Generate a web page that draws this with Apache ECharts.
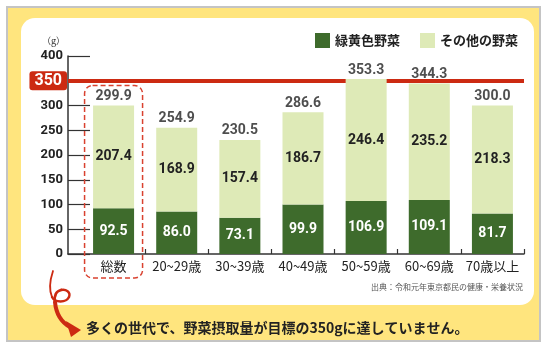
<!DOCTYPE html>
<html>
<head>
<meta charset="utf-8">
<script src="https://cdn.jsdelivr.net/npm/echarts@6/dist/echarts.min.js"></script>
<style>
  html, body { margin: 0; padding: 0; background: #ffffff; }
  #frame { position: absolute; left: 6px; top: 6px; width: 535px; height: 336px; box-sizing: border-box;
           border: 2px solid #c4c4c4; background: #FFE57E; }
  #panel { position: absolute; left: 21px; top: 18px; width: 513px; height: 287px; background: #ffffff; border-radius: 14px; }
  #chart { position: absolute; left: 0; top: 0; width: 550px; height: 350px; }
</style>
</head>
<body>
<div id="frame"></div>
<div id="panel"></div>
<div id="chart"></div>
<script>
const categories = ['総数', '20~29歳', '30~39歳', '40~49歳', '50~59歳', '60~69歳', '70歳以上'];
const greenYellowVeg = [92.5, 86.0, 73.1, 99.9, 106.9, 109.1, 81.7];
const otherVeg = [207.4, 168.9, 157.4, 186.7, 246.4, 235.2, 218.3];
const totals = [299.9, 254.9, 230.5, 286.6, 353.3, 344.3, 300.0];
const targetValue = 350;
const seriesNames = ['緑黄色野菜', 'その他の野菜'];
const yUnit = '（g）';
const sourceText = '出典：令和元年東京都民の健康・栄養状況';
const captionText = '多くの世代で、野菜摂取量が目標の350gに達していません。';

const FONT_CJK = "'Noto Sans CJK JP', sans-serif";
const FONT_NUM = "Roboto, 'Noto Sans', sans-serif";
const DARK = '#3E6B2C';
const LIGHT = '#DEEAB7';
const RED = '#CC2A12';
const AXIS = '#333333';

// layout: outer frame grid (axes) starts 14px left of the bar band grid
const FRAME_LEFT = 68, BAND_LEFT = 82, RIGHT = 26, TOP = 56, BOTTOM = 96;
const bandWidth = (550 - RIGHT - BAND_LEFT) / categories.length;
const xMin = -0.5 - (BAND_LEFT - FRAME_LEFT) / bandWidth;
const xMax = categories.length - 0.5;

const chart = echarts.init(document.getElementById('chart'), null, { renderer: 'canvas' });

const option = {
  animation: false,
  backgroundColor: 'transparent',
  grid: [
    { left: FRAME_LEFT, right: RIGHT, top: TOP, bottom: BOTTOM },
    { left: BAND_LEFT, right: RIGHT, top: TOP, bottom: BOTTOM }
  ],
  legend: {
    data: seriesNames,
    right: 27, top: 28,
    icon: 'rect', itemWidth: 15, itemHeight: 15, itemGap: 20,
    selectedMode: false,
    textStyle: { fontFamily: FONT_CJK, fontSize: 13, fontWeight: 'bold', color: '#222' }
  },
  xAxis: [
    {
      gridIndex: 0, type: 'value', min: xMin, max: xMax,
      splitLine: { show: false },
      axisLine: { show: true, onZero: false, lineStyle: { color: AXIS, width: 1.5 } },
      axisTick: { show: true, inside: true, length: 5, lineStyle: { color: AXIS, width: 1.2 },
                  customValues: categories.map((c, i) => i + 0.5) },
      axisLabel: { customValues: categories.map((c, i) => i),
                   formatter: v => categories[Math.round(v)] || '',
                   fontFamily: FONT_CJK, fontSize: 13, color: '#222', margin: 6 }
    },
    {
      gridIndex: 1, type: 'category', data: categories,
      axisLine: { show: false }, axisTick: { show: false }, axisLabel: { show: false }, splitLine: { show: false }
    }
  ],
  yAxis: [
    {
      gridIndex: 0, type: 'value', min: 0, max: 400, interval: 50,
      name: yUnit, nameLocation: 'end', nameGap: 11,
      nameTextStyle: { fontFamily: FONT_CJK, fontSize: 9, color: '#333', align: 'right', padding: [0, 3, 0, 0] },
      splitLine: { show: false },
      axisLine: { show: true, onZero: false, lineStyle: { color: AXIS, width: 1.5 } },
      axisTick: { show: true, inside: true, length: 22, lineStyle: { color: AXIS, width: 1.2 } },
      axisLabel: { formatter: v => (v === targetValue ? '' : String(v)),
                   fontFamily: FONT_NUM, fontSize: 13, fontWeight: 'bold', color: '#222', margin: 5 }
    },
    {
      gridIndex: 1, type: 'value', min: 0, max: 400, interval: 50,
      axisLine: { show: false }, axisTick: { show: false }, axisLabel: { show: false }, splitLine: { show: false }
    }
  ],
  series: [
    {
      name: seriesNames[0], type: 'bar', stack: 'veg', barWidth: 41, z: 3,
      xAxisIndex: 1, yAxisIndex: 1,
      itemStyle: { color: DARK },
      data: greenYellowVeg,
      label: { show: true, position: 'inside', color: '#fff', fontFamily: FONT_NUM, fontSize: 14, fontWeight: 'bold',
               formatter: p => p.value.toFixed(1) }
    },
    {
      name: seriesNames[1], type: 'bar', stack: 'veg', barWidth: 41, z: 3,
      xAxisIndex: 1, yAxisIndex: 1,
      itemStyle: { color: LIGHT },
      data: otherVeg,
      label: { show: true, position: 'inside', color: '#222', fontFamily: FONT_NUM, fontSize: 14, fontWeight: 'bold',
               formatter: p => p.value.toFixed(1) }
    },
    {
      name: 'total', type: 'scatter', symbolSize: 0, z: 4,
      xAxisIndex: 0, yAxisIndex: 0,
      data: totals.map((v, i) => [i, v]),
      label: { show: true, position: 'top', distance: 2, color: '#222', fontFamily: FONT_NUM, fontSize: 14, fontWeight: 'bold',
               formatter: p => p.value[1].toFixed(1) },
      markLine: {
        silent: true, z: 1, symbol: ['none', 'none'],
        lineStyle: { color: RED, width: 4, type: 'solid' },
        label: { show: true, position: 'start', formatter: String(targetValue), distance: 1,
                 backgroundColor: RED, color: '#fff', fontFamily: FONT_NUM, fontSize: 16, fontWeight: 'bold',
                 padding: [2, 5, 1, 5], borderRadius: 3 },
        emphasis: { disabled: true },
        data: [{ yAxis: targetValue }]
      }
    }
  ]
};
chart.setOption(option);

const pTop = chart.convertToPixel({ gridIndex: 0 }, [0, totals[0]]);
const pBase = chart.convertToPixel({ gridIndex: 0 }, [0, 0]);
const boxTop = pTop[1] - 20;
const boxBottom = pBase[1] + 24;

function curve(x1, y1, cx1, cy1, cx2, cy2, x2, y2, lw) {
  return { type: 'bezierCurve', z: 50, silent: true,
           shape: { x1: x1, y1: y1, cpx1: cx1, cpy1: cy1, cpx2: cx2, cpy2: cy2, x2: x2, y2: y2 },
           style: { fill: 'none', stroke: RED, lineWidth: lw, lineCap: 'round' } };
}

chart.setOption({
  graphic: [
    {
      type: 'rect', z: 50, silent: true,
      shape: { x: pTop[0] - 29, y: boxTop, width: 58, height: boxBottom - boxTop, r: 8 },
      style: { fill: 'none', stroke: '#D9412F', lineWidth: 1.5, lineDash: [5, 3] }
    },
    {
      type: 'text', z: 50, silent: true, x: 523, y: 287,
      style: { text: sourceText, fontFamily: FONT_CJK, fontSize: 8, fill: '#555',
               align: 'right', verticalAlign: 'middle', textAlign: 'right', textVerticalAlign: 'middle' }
    },
    {
      type: 'text', z: 50, silent: true, x: 86, y: 328,
      style: { text: captionText, fontFamily: FONT_CJK, fontSize: 14, fontWeight: 'bold', fill: '#222',
               align: 'left', verticalAlign: 'middle', textAlign: 'left', textVerticalAlign: 'middle' }
    },
    curve(53, 271, 50, 280, 49, 290, 52, 297, 1.8),
    curve(52, 297, 55, 303, 66, 303, 69, 297, 2.4),
    curve(69, 297, 71, 292, 66, 289, 61, 290, 2.4),
    curve(61, 290, 56, 291, 54, 296, 55, 302, 2.8),
    curve(55, 302, 56, 313, 61, 322, 70, 327, 4),
    {
      type: 'polygon', z: 50, silent: true,
      shape: { points: [[66, 321], [81, 330], [71, 337]] },
      style: { fill: RED }
    }
  ]
});
</script>
</body>
</html>
